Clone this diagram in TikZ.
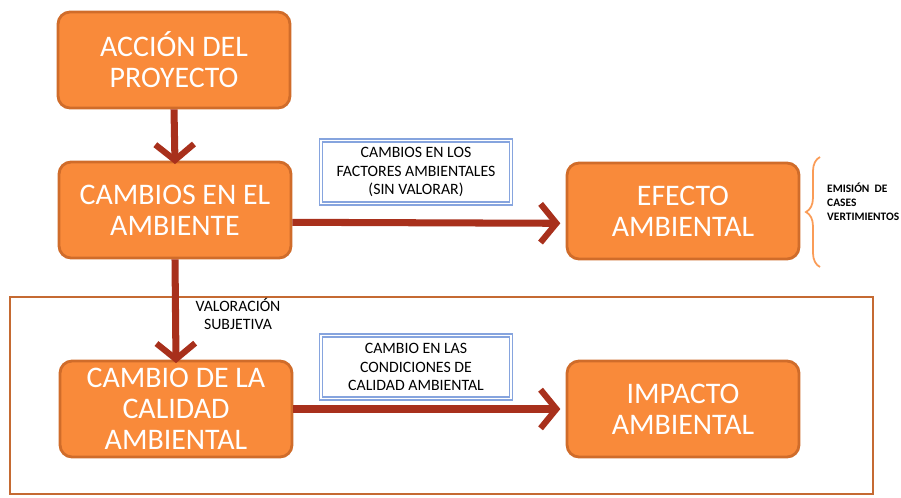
\documentclass[tikz,border=0pt]{standalone}
\usepackage{fontspec}
\setmainfont{Carlito}
\usetikzlibrary{arrows.meta, decorations.pathreplacing}
\definecolor{boxorange}{HTML}{F98A3A}
\definecolor{boxedge}{HTML}{D06C2A}
\definecolor{arrowred}{HTML}{A8301C}
\definecolor{labelblue}{HTML}{86A4DE}
\definecolor{frameedge}{HTML}{C56A32}
\tikzset{
    stage/.style={draw=boxedge, line width=1.6pt, fill=boxorange, rounded corners=0.24cm,
        minimum width=4.64cm, minimum height=1.92cm, align=center, text=white,
        font=\fontsize{17}{17.5}\selectfont},
    tag/.style={draw=labelblue, line width=0.8pt, double=white, double distance=0.7pt,
        fill=white, inner sep=2pt, minimum width=3.8cm, minimum height=1.26cm,
        align=center, font=\fontsize{9}{10.5}\selectfont},
    flow/.style={arrowred, line width=4pt,
        -{Straight Barb[length=9pt, width=22pt, line width=3.5pt]}},
}
\begin{document}
\begin{tikzpicture}[x=0.02cm, y=-0.02cm]
    \useasboundingbox (0,0) rectangle (901,497);
    % frame round the valued part
    \draw[frameedge, line width=1.5pt] (10,297) rectangle (873,494);
    % stages
    \node[stage] (accion) at (174,60) {ACCIÓN DEL\\PROYECTO};
    \node[stage] (cambios) at (175,210) {CAMBIOS EN EL\\AMBIENTE};
    \node[stage] (efecto) at (683,211) {EFECTO\\AMBIENTAL};
    \node[stage] (calidad) at (176,409) {CAMBIO DE LA\\CALIDAD\\AMBIENTAL};
    \node[stage] (impacto) at (683,409) {IMPACTO\\AMBIENTAL};
    % labels on the arrows
    \node[tag] (sinvalor) at (416,172) {CAMBIOS EN LOS\\FACTORES AMBIENTALES\\(SIN VALORAR)};
    \node[tag] (condicion) at (416,367) {CAMBIO EN LAS\\CONDICIONES DE\\CALIDAD AMBIENTAL};
    \node[font=\fontsize{9}{10.5}\selectfont, align=center] (valor) at (238,314) {VALORACIÓN\\SUBJETIVA};
    % arrows
    \draw[flow] (accion.south) -- ([yshift=-2pt]cambios.north);
    \draw[flow] (cambios.south) -- ([yshift=-2pt]calidad.north);
    \draw[flow] ([yshift=-7pt]cambios.east) -- ([xshift=-3pt, yshift=-7pt]efecto.west);
    \draw[flow] (calidad.east) -- ([xshift=-3pt]impacto.west);
    % brace with the examples
    \coordinate (bracetop) at (820,157);
    \coordinate (bracebot) at (820,267);
    \draw[boxorange!85!white, line width=1pt, decorate, decoration={brace, amplitude=8pt}]
        (bracebot) -- (bracetop);
    \node[font=\fontsize{6.5}{8}\selectfont\bfseries, align=left, anchor=west] (ejemplos)
        at (821,202) {EMISIÓN~~DE\\CASES\\VERTIMIENTOS};
\end{tikzpicture}
\end{document}
